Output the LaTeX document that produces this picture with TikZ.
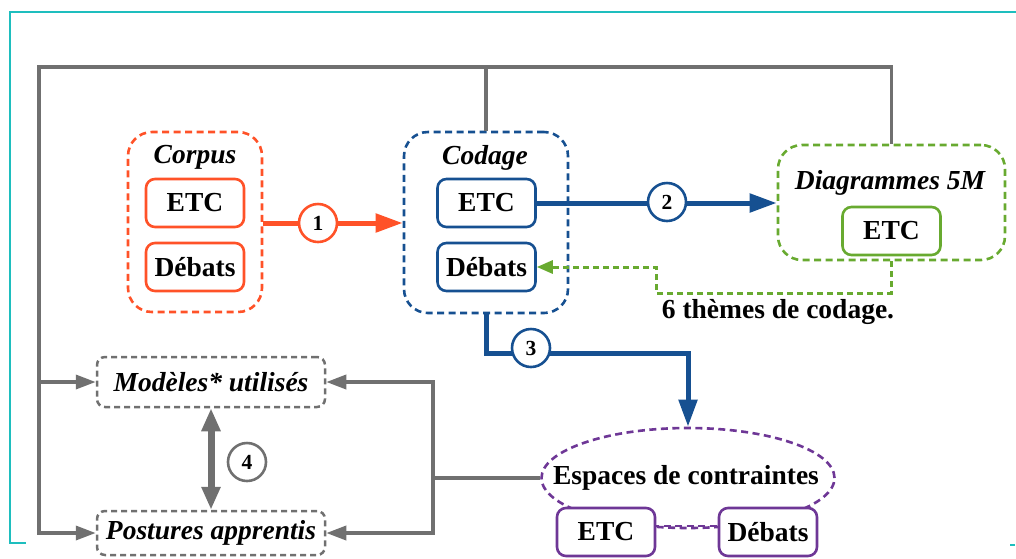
\documentclass[tikz,border=0pt]{standalone}
\usepackage{fontspec}
\setmainfont{Liberation Serif}
\usetikzlibrary{arrows.meta,shapes.geometric,calc}
\definecolor{cred}{RGB}{255,82,40}
\definecolor{cblue}{RGB}{22,80,145}
\definecolor{cgreen}{RGB}{104,170,48}
\definecolor{cpurple}{RGB}{110,55,150}
\definecolor{cgray}{RGB}{112,112,112}
\definecolor{cteal}{RGB}{30,190,190}
\tikzset{
  grp/.style={draw, line width=2.6pt, dash pattern=on 7pt off 4.5pt, rounded corners=24pt, inner sep=0pt},
  sub/.style={draw, line width=2.6pt, rounded corners=9pt, minimum width=98pt, minimum height=48pt, inner sep=0pt, fill=white, font=\fontsize{27.5}{31}\selectfont\bfseries},
  ttl/.style={font=\fontsize{27.5}{31}\selectfont\bfseries\itshape, inner sep=0pt},
  txt/.style={font=\fontsize{27.5}{31}\selectfont\bfseries, inner sep=0pt},
  num/.style={circle, draw, fill=white, line width=2.6pt, minimum size=38pt, inner sep=0pt, font=\fontsize{21.5}{24}\selectfont\bfseries},
  flow/.style={line width=5pt, -{Triangle[length=27pt,width=18pt]}},
  gline/.style={draw=cgray, line width=3.5pt},
  gtip/.tip={Triangle[length=20pt,width=14pt]},
  gbox/.style={draw=cgray, line width=2.5pt, dash pattern=on 6pt off 4pt, rounded corners=8pt, inner sep=0pt, minimum width=228pt, font=\fontsize{27.5}{31}\selectfont\bfseries\itshape},
}
\begin{document}
\begin{tikzpicture}[x=1pt,y=-1pt]
\useasboundingbox (0,0) rectangle (1016,558);
% frame
\draw[cteal, line width=1.5pt] (1016,12) -- (10,12) -- (10,543) -- (26,543);
\draw[cteal, line width=1.5pt] (1010,545) -- (1015,545);

% groups
\node[grp, draw=cred, minimum width=134pt, minimum height=180pt] (corpus) at (195,222) {};
\node[ttl] (corpust) at (195,157) {Corpus};
\node[sub, draw=cred] (retc) at (195,203) {ETC};
\node[sub, draw=cred] (rdeb) at (195,267) {Débats};

\node[grp, draw=cblue, minimum width=164pt, minimum height=181pt] (codage) at (486,222.5) {};
\node[ttl] (codaget) at (485,158) {Codage};
\node[sub, draw=cblue] (cetc) at (486.5,203) {ETC};
\node[sub, draw=cblue] (cdeb) at (486.5,267) {Débats};

\node[grp, draw=cgreen, minimum width=227pt, minimum height=115pt] (diag) at (891.5,202.5) {};
\node[ttl] (diagt) at (890,183) {Diagrammes 5M};
\node[sub, draw=cgreen] (getc) at (891.5,231) {ETC};

\node[txt] (theme) at (778,312) {6 thèmes de codage.};

\node[gbox, minimum height=50pt] (mod) at (211,382) {Modèles* utilisés};
\node[gbox, minimum height=44pt] (post) at (211,533) {Postures apprentis};

\node[ellipse, draw=cpurple, line width=2.6pt, dash pattern=on 7pt off 4.5pt, minimum width=293pt, minimum height=100pt, inner sep=0pt] (esp) at (688,478) {};
\node[txt] (espt) at (686,478) {Espaces de contraintes};

% gray loops
\coordinate (tl) at (39,67);
\coordinate (rr) at (433,478);
\draw[gline, -gtip] (diag.north) |- (tl) |- (post.west);
\draw[gline] (codage.north) -- (codage.north |- tl);
\draw[gline, -gtip] (tl |- mod.west) -- (mod.west);
\draw[gline, gtip-gtip] (mod.east) -| (rr) |- (post.east);
\draw[gline] (esp.west) -- (rr);
\draw[gline, line width=7pt, {Triangle[length=23pt,width=18pt]}-{Triangle[length=23pt,width=18pt]}] (mod.south) -- (post.north);

% purple boxes
\draw[cpurple, line width=2.6pt, dash pattern=on 7pt off 4.5pt] (606,526) -- (768,526);
\node[sub, draw=cpurple] (petc) at (606,532) {ETC};
\node[sub, draw=cpurple] (pdeb) at (768,532) {Débats};

% flows
\draw[flow, cred] (corpus.east |- 0,223) -- (codage.west |- 0,223);
\draw[flow, cblue] (cetc.east) -- (cetc.east -| diag.west);
\coordinate (c3) at (688,353);
\draw[flow, cblue, line join=miter] (codage.south) |- (c3) -- (esp.north);
\coordinate (g1) at (656,293);
\draw[cgreen, line width=3pt, dash pattern=on 6pt off 4pt, -{Triangle[length=16pt,width=13pt]}] (diag.south) |- (g1) |- (cdeb.east);

% numbers
\node[num, draw=cred] (n1) at (318,223) {1};
\node[num, draw=cblue] (n2) at (667,202) {2};
\node[num, draw=cblue] (n3) at (531,348) {3};
\node[num, draw=cgray] (n4) at (247,462) {4};
\end{tikzpicture}
\end{document}
